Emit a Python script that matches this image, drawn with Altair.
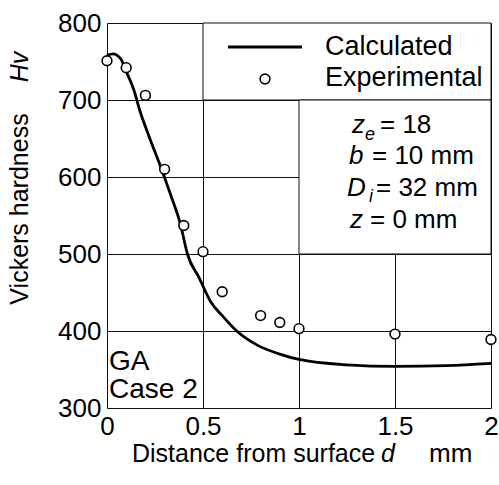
import altair as alt
import pandas as pd

# Calculated curve
calc_d = [0, 0.03, 0.07, 0.1, 0.14, 0.17, 0.22, 0.28, 0.33, 0.38, 0.42, 0.48, 0.54, 0.6, 0.68, 0.78, 0.9, 1.0, 1.25, 1.5, 1.77, 2.0]
calc_hv = [758, 760, 754, 737, 713, 687, 652, 613, 578, 541, 499, 469, 438, 420, 399, 382, 370, 363, 356, 354, 355, 358]

# Experimental points
exp_d = [0, 0.1, 0.2, 0.3, 0.4, 0.5, 0.6, 0.8, 0.9, 1.0, 1.5, 2.0]
exp_hv = [751, 742, 706, 610, 537, 503, 451, 420, 411, 403, 396, 389]

x_ticks = [0, 0.5, 1, 1.5, 2]
y_ticks = [300, 400, 500, 600, 700, 800]

# white boxes (legend and parameter box), in data units
box_x = [0.5, 1.0]
box_x2 = [2.0, 2.0]
box_y = [700, 500]
box_y2 = [800, 700]

FONT = "Liberation Sans"

calc_df = pd.DataFrame({"d": calc_d, "hv": calc_hv})
exp_df = pd.DataFrame({"d": exp_d, "hv": exp_hv})
box_df = pd.DataFrame({"x": box_x, "x2": box_x2, "y": box_y, "y2": box_y2})

xscale = alt.Scale(domain=[0, 2], nice=False, zero=False)
yscale = alt.Scale(domain=[300, 800], nice=False, zero=False)

xaxis = alt.Axis(values=x_ticks, format="~g", title=None, grid=True, ticks=False, tickSize=0,
                 domain=False, labelFont=FONT, labelFontSize=26, labelColor="black",
                 labelPadding=5, gridColor="#111", gridWidth=1, labelFlush=False)
yaxis = alt.Axis(values=y_ticks, title=None, grid=True, ticks=False, tickSize=0,
                 domain=False, labelFont=FONT, labelFontSize=26, labelColor="black",
                 labelPadding=6, gridColor="#111", gridWidth=1)

line = alt.Chart(calc_df).mark_line(color="black", strokeWidth=2.8, interpolate="monotone").encode(
    x=alt.X("d:Q", scale=xscale, axis=xaxis),
    y=alt.Y("hv:Q", scale=yscale, axis=yaxis),
)

boxes = alt.Chart(box_df).mark_rect(fill="white", stroke="#111", strokeWidth=1).encode(
    x=alt.X("x:Q", scale=xscale), x2="x2:Q",
    y=alt.Y("y:Q", scale=yscale), y2="y2:Q",
)

points = alt.Chart(exp_df).mark_point(shape="circle", filled=False, fill="white", fillOpacity=1,
                                      color="black", strokeWidth=1.6, size=95, opacity=1).encode(
    x=alt.X("d:Q", scale=xscale),
    y=alt.Y("hv:Q", scale=yscale),
)

one = alt.Data(values=[{}])


def txt(text, x, y, size=26, style="normal", align="left", angle=0):
    kw = dict(text=text, font=FONT, fontSize=size, fontStyle=style, align=align,
              baseline="alphabetic", color="black")
    if angle:
        kw["angle"] = angle
    return alt.Chart(one).mark_text(**kw).encode(x=alt.value(x), y=alt.value(y))


texts = [
    # axis titles
    txt("Vickers hardness", -79, 186, size=25, align="center", angle=270),
    txt("Hv", -79, 44, size=25, style="italic", align="center", angle=270),
    txt("Distance from surface", 25, 439, size=25),
    txt("d", 274, 439, size=25, style="italic"),
    txt("mm", 322, 439, size=26),
    # legend labels
    txt("Calculated", 218, 32, size=27),
    txt("Experimental", 218, 63, size=27),
    # parameters
    txt("z", 245, 110, style="italic"),
    txt("e", 258, 117, size=18, style="italic"),
    txt("= 18", 273, 110),
    txt("b", 242, 141, style="italic"),
    txt("= 10 mm", 265, 141),
    txt("D", 240, 173, style="italic"),
    txt("i", 262, 179, size=18, style="italic"),
    txt("= 32 mm", 269, 173),
    txt("z", 243, 205, style="italic"),
    txt("= 0 mm", 263, 205),
    # case label
    txt("GA", 2, 347, size=28),
    txt("Case 2", 2, 375, size=28),
]

legend_line = alt.Chart(one).mark_rule(color="black", strokeWidth=2.8).encode(
    x=alt.value(121), x2=alt.value(195), y=alt.value(24))
legend_pt = alt.Chart(one).mark_point(shape="circle", filled=False, fill="white", fillOpacity=1,
                                      color="black", strokeWidth=1.6, size=95).encode(
    x=alt.value(158), y=alt.value(56))

chart = alt.layer(line, boxes, points, legend_line, legend_pt, *texts).properties(
    width=384, height=385,
    padding={"left": 107, "top": 23, "right": 8, "bottom": 77},
    autosize="none",
).configure_view(stroke="black", strokeWidth=2).configure(background="white")

chart.save("out.html", embed_options={"renderer": "svg", "actions": False})
